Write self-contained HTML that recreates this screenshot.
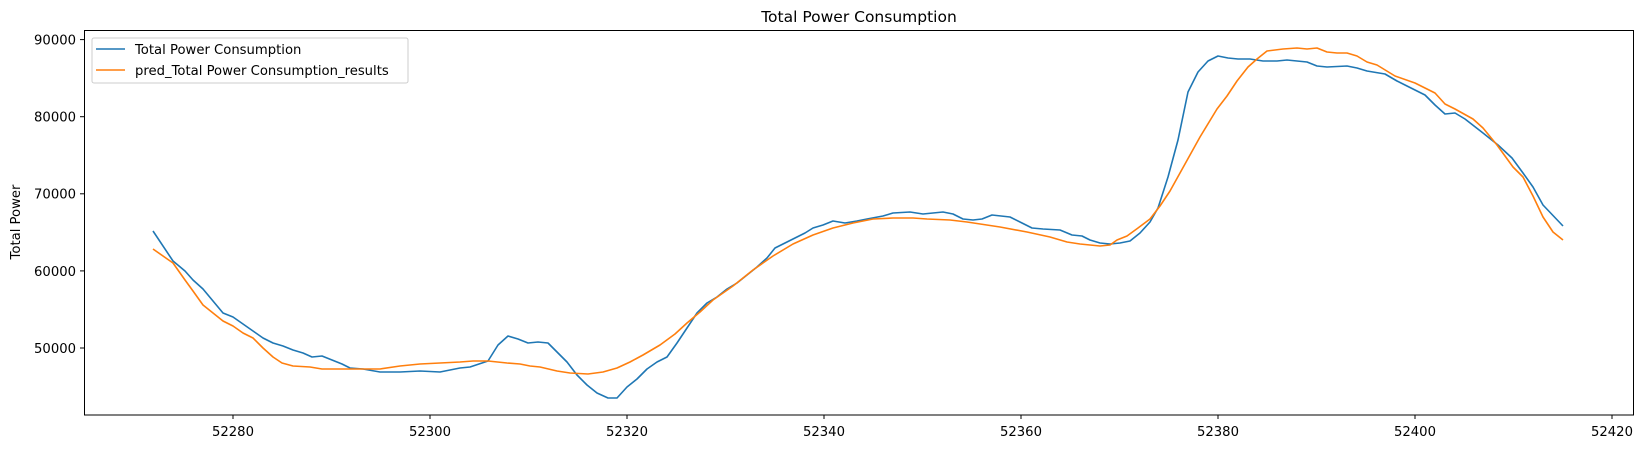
<!DOCTYPE html>
<html><head><meta charset="utf-8"><style>html,body{margin:0;padding:0;background:#fff}svg{display:block}text{font-family:"DejaVu Sans","Liberation Sans",sans-serif;fill:#000}</style></head><body>
<svg width="1644" height="449" viewBox="0 0 1644 449" xmlns="http://www.w3.org/2000/svg">
<text x="859" y="22" font-size="15.5" text-anchor="middle">Total Power Consumption</text>
<text transform="translate(20,222) rotate(-90)" font-size="13.2" text-anchor="middle">Total Power</text>
<g stroke="#000" stroke-width="1">
<line x1="80" y1="39.6" x2="84" y2="39.6"/><line x1="80" y1="116.7" x2="84" y2="116.7"/><line x1="80" y1="193.8" x2="84" y2="193.8"/><line x1="80" y1="270.9" x2="84" y2="270.9"/><line x1="80" y1="348" x2="84" y2="348"/>
<line x1="233" y1="415" x2="233" y2="419"/><line x1="430" y1="415" x2="430" y2="419"/><line x1="627" y1="415" x2="627" y2="419"/><line x1="824" y1="415" x2="824" y2="419"/><line x1="1021" y1="415" x2="1021" y2="419"/><line x1="1218" y1="415" x2="1218" y2="419"/><line x1="1415" y1="415" x2="1415" y2="419"/><line x1="1612" y1="415" x2="1612" y2="419"/>
</g>
<g font-size="13.2" text-anchor="end">
<text x="76" y="44.5">90000</text><text x="76" y="121.6">80000</text><text x="76" y="198.7">70000</text><text x="76" y="275.8">60000</text><text x="76" y="352.9">50000</text>
</g>
<g font-size="13.2" text-anchor="middle">
<text x="233" y="436">52280</text><text x="430" y="436">52300</text><text x="627" y="436">52320</text><text x="824" y="436">52340</text><text x="1021" y="436">52360</text><text x="1218" y="436">52380</text><text x="1415" y="436">52400</text><text x="1612" y="436">52420</text>
</g>
<polyline fill="none" stroke="#1f77b4" stroke-width="1.6" stroke-linejoin="round" points="153,231 173,261 185,271 193,280 203,289 213,301 223,313 233,317 243,324 253,331 263,338 273,343 283,346 293,350 303,353 312,357 322,356 332,360 342,364 350,368 363,369 380,372 400,372 420,371 440,372 460,368 470,367 488,361 498,345 508,336 518,339 528,343 538,342 548,343 557,352 567,362 577,375 587,385 597,393 608,398 617,398 627,387 637,379 647,369 657,362 667,357 677,343 687,328 697,313 707,303 717,297 727,289 737,283 747,275 757,267 767,258 775,248 785,243 795,238 805,233 813,228 823,225 833,221 845,223 857,221 867,219 883,216 893,213 910,212 923,214 943,212 953,214 963,219 973,220 982,219 992,215 1010,217 1022,223 1032,228 1043,229 1060,230 1072,235 1082,236 1090,240 1100,243 1110,244 1120,243 1130,241 1140,233 1150,222 1158,208 1168,177 1178,140 1188,92 1198,72 1208,61 1218,56 1228,58 1238,59 1250,59 1263,61 1277,61 1287,60 1307,62 1317,66 1327,67 1347,66 1357,68 1367,71 1385,74 1397,81 1407,86 1425,95 1435,105 1445,114 1455,113 1465,119 1483,133 1498,145 1512,158 1523,173 1533,187 1543,205 1563,226"/>
<polyline fill="none" stroke="#ff7f0e" stroke-width="1.6" stroke-linejoin="round" points="153,249 173,263 185,280 193,291 203,305 213,313 223,321 233,326 243,333 253,338 263,348 273,357 282,363 293,366 310,367 322,369 333,369 350,369 363,369 380,369 400,366 420,364 440,363 460,362 473,361 488,361 507,363 520,364 530,366 540,367 557,371 570,373 588,374 603,372 617,368 630,362 643,355 660,345 675,334 687,323 700,312 713,300 733,286 753,270 773,256 793,244 813,235 833,228 853,223 873,219 893,218 913,218 927,219 950,220 967,222 1000,227 1027,232 1050,237 1067,242 1080,244 1100,246 1110,245 1117,240 1127,236 1138,228 1150,219 1160,206 1170,191 1180,173 1190,155 1200,137 1217,109 1227,96 1237,81 1248,67 1257,59 1267,51 1283,49 1297,48 1307,49 1317,48 1327,52 1337,53 1347,53 1357,56 1367,62 1377,65 1395,76 1415,83 1435,93 1445,104 1455,109 1473,119 1483,128 1497,145 1513,167 1523,177 1533,196 1543,217 1553,232 1563,240"/>
<rect x="84.5" y="30.5" width="1549" height="384.5" fill="none" stroke="#000" stroke-width="1"/>
<rect x="92" y="38" width="316" height="45" rx="2" fill="#fff" fill-opacity="0.8" stroke="#ccc" stroke-width="1"/>
<line x1="96" y1="49" x2="125" y2="49" stroke="#1f77b4" stroke-width="1.6"/>
<line x1="96" y1="70" x2="125" y2="70" stroke="#ff7f0e" stroke-width="1.6"/>
<text x="135" y="54" font-size="13.2">Total Power Consumption</text>
<text x="135" y="75" font-size="13.2">pred_Total Power Consumption_results</text>
</svg>
</body></html>
